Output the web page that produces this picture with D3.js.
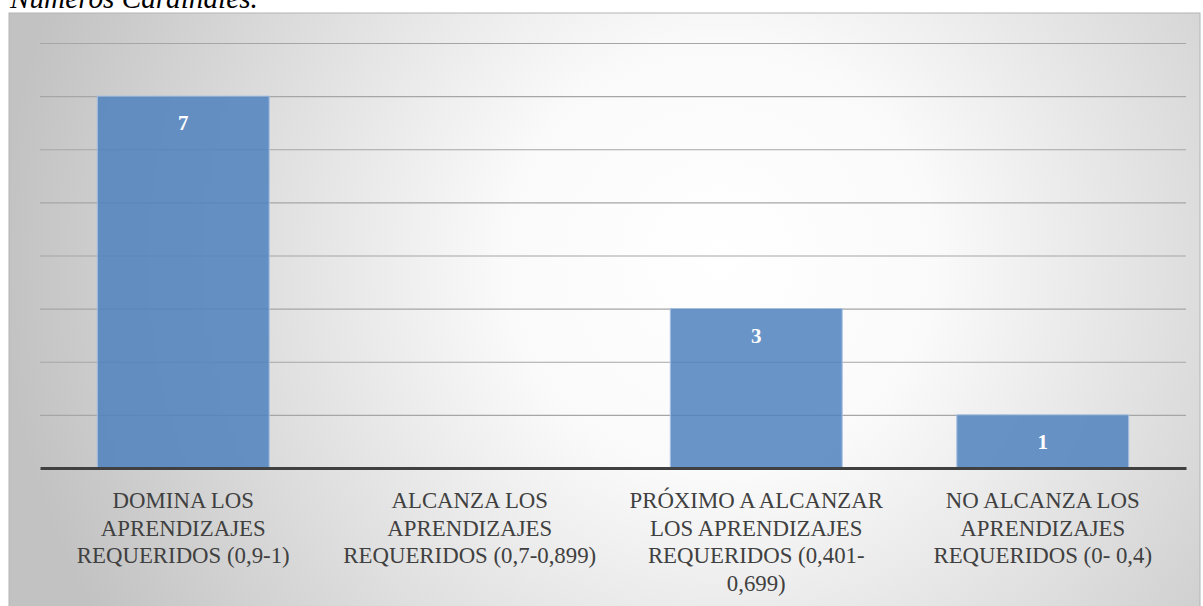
<!DOCTYPE html>
<html>
<head>
<meta charset="utf-8">
<script src="https://cdn.jsdelivr.net/npm/d3@7"></script>
<style>
  body { margin: 0; background: #fff; }
  svg { display: block; }
</style>
</head>
<body>
<svg id="chart" width="1203" height="606"></svg>
<script>
// data
const categories = ["dom", "alc", "prox", "noalc"];
const categoryLines = [
    ["DOMINA LOS", "APRENDIZAJES", "REQUERIDOS (0,9-1)"],
    ["ALCANZA LOS", "APRENDIZAJES", "REQUERIDOS (0,7-0,899)"],
    ["PRÓXIMO A ALCANZAR", "LOS APRENDIZAJES", "REQUERIDOS (0,401-", "0,699)"],
    ["NO ALCANZA LOS", "APRENDIZAJES", "REQUERIDOS (0- 0,4)"]
];
const values = [7, 0, 3, 1];
const yTicks = [1, 2, 3, 4, 5, 6, 7, 8];
const titleText = "Números Cardinales.";

const SERIF = "'Liberation Serif', 'DejaVu Serif', 'Noto Serif', serif";

const svg = d3.select("#chart");

// background gradient
const defs = svg.append("defs");
const grad = defs.append("radialGradient")
    .attr("id", "bg")
    .attr("gradientUnits", "userSpaceOnUse")
    .attr("cx", 720).attr("cy", 260).attr("r", 720);
grad.append("stop").attr("offset", "0%").attr("stop-color", "#ffffff");
grad.append("stop").attr("offset", "30%").attr("stop-color", "#fafafa");
grad.append("stop").attr("offset", "100%").attr("stop-color", "#c2c2c2");

// caption above chart (cut off at top, as in the source)
const title = svg.append("text")
    .attr("x", 10)
    .attr("y", 8)
    .style("font-family", SERIF)
    .style("font-style", "italic")
    .style("font-size", "29px")
    .style("fill", "#000")
    .text(titleText);
// fit to the width seen in the picture
const tw = title.node().getComputedTextLength();
title.style("font-size", (29 * 248 / tw) + "px");

// chart frame
svg.append("rect")
    .attr("x", 9).attr("y", 13)
    .attr("width", 1191).attr("height", 600)
    .attr("fill", "url(#bg)")
    .attr("stroke", "#b4b4b4")
    .attr("stroke-width", 1);

const x = d3.scaleBand()
    .domain(categories)
    .range([40, 1186])
    .paddingInner(0.4)
    .paddingOuter(0.2);

const y = d3.scaleLinear()
    .domain([0, 8])
    .range([468, 43]);

// gridlines
svg.append("g")
    .attr("transform", "translate(40,0)")
    .call(d3.axisLeft(y).tickValues(yTicks).tickSize(-1146).tickFormat(""))
    .call(g => g.select(".domain").remove())
    .call(g => g.selectAll(".tick line")
        .attr("stroke", "#a6a6a6")
        .attr("stroke-width", 1.2));

const barData = values.map((v, i) => ({v, c: categories[i]})).filter(d => d.v > 0);

// bars
svg.append("g")
    .selectAll("rect")
    .data(barData)
    .join("rect")
    .attr("x", d => x(d.c))
    .attr("y", d => y(d.v))
    .attr("width", x.bandwidth())
    .attr("height", d => y(0) - y(d.v))
    .attr("fill", "#4f81bd")
    .attr("fill-opacity", 0.85)
    .attr("stroke", "#a7c1e2")
    .attr("stroke-width", 1);

// value labels
svg.append("g")
    .selectAll("text")
    .data(barData)
    .join("text")
    .attr("x", d => x(d.c) + x.bandwidth() / 2)
    .attr("y", d => y(d.v) + 34)
    .attr("text-anchor", "middle")
    .style("font-family", SERIF)
    .style("font-weight", "bold")
    .style("font-size", "21px")
    .style("fill", "#fff")
    .text(d => d.v);

// baseline axis
svg.append("g")
    .attr("transform", `translate(0,${y(0)})`)
    .call(d3.axisBottom(x).tickSize(0).tickFormat(""))
    .call(g => g.select(".domain")
        .attr("stroke", "#404040")
        .attr("stroke-width", 3));

// category labels, size fitted so "REQUERIDOS (0,9-1)" is ~213px wide
const probe = svg.append("text")
    .style("font-family", SERIF)
    .style("font-size", "20px")
    .text(categoryLines[0][2]);
const labelSize = 20 * 213 / probe.node().getComputedTextLength();
probe.remove();

const labels = svg.append("g")
    .selectAll("text")
    .data(categories)
    .join("text")
    .attr("text-anchor", "middle")
    .style("font-family", SERIF)
    .style("font-size", labelSize + "px")
    .style("fill", "#404040");

labels.selectAll("tspan")
    .data((d, i) => categoryLines[i].map(t => ({t, c: d})))
    .join("tspan")
    .attr("x", d => x(d.c) + x.bandwidth() / 2)
    .attr("y", (d, j) => 508 + j * 27.5)
    .text(d => d.t);
</script>
</body>
</html>
